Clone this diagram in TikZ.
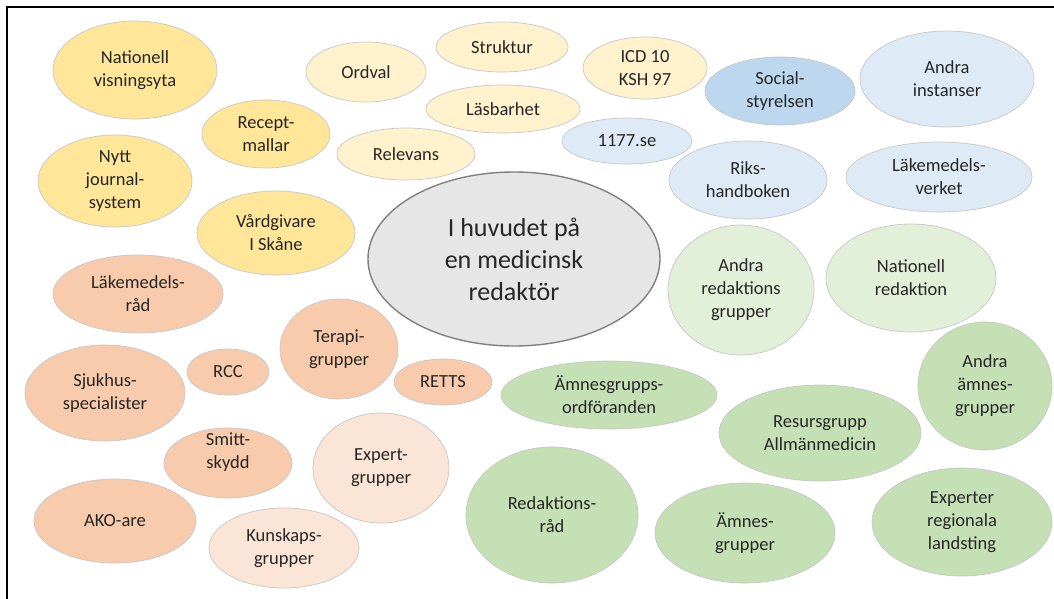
\documentclass[tikz,border=0pt]{standalone}
\usepackage{fontspec}
\setmainfont{Carlito}
\usetikzlibrary{shapes.geometric}
\definecolor{cyel}{HTML}{FFE699}
\definecolor{clyel}{HTML}{FFF2CC}
\definecolor{clblue}{HTML}{DEEBF7}
\definecolor{cblue}{HTML}{BDD7EE}
\definecolor{corange}{HTML}{F8CBAD}
\definecolor{cpeach}{HTML}{FBE5D6}
\definecolor{cgreen}{HTML}{C5E0B4}
\definecolor{clgreen}{HTML}{E2F0D9}
\definecolor{cgray}{HTML}{E7E6E6}
\definecolor{ctext}{HTML}{262626}
\tikzset{
  bub/.style={ellipse, inner sep=0pt, align=center, draw=black!22, line width=0.7pt,
    text=ctext, font=\fontsize{18.5}{23}\selectfont},
  sz/.style n args={2}{minimum width=#1pt, minimum height=#2pt},
  yel/.style={bub, fill=cyel},
  lyel/.style={bub, fill=clyel},
  lblue/.style={bub, fill=clblue},
  blue/.style={bub, fill=cblue},
  ora/.style={bub, fill=corange},
  pea/.style={bub, fill=cpeach},
  gre/.style={bub, fill=cgreen},
  lgre/.style={bub, fill=clgreen},
  txt/.style={inner sep=0pt, align=center, text=ctext, font=\fontsize{18.5}{23}\selectfont},
}
\begin{document}
\begin{tikzpicture}[x=1pt,y=-1pt]
\useasboundingbox (0,0) rectangle (1054,598);
\fill[white] (0,0) rectangle (1054,598);
\coordinate (fl) at (7,598);
\coordinate (fc) at (7,7);
\coordinate (fr) at (1054,7);
\draw[line width=2pt, line cap=rect] (fl) -- (fc) -- (fr);
% yellow
\node[yel, sz={164}{98}] (nat) at (135,70) {Nationell\\visningsyta};
\node[yel, sz={128}{68}] (rec) at (266,134) {Recept-\\mallar};
\node[yel, sz={154}{92}] (nytt) at (115,181) {Nytt\\journal-\\system};
\node[yel, sz={158}{84}] (vard) at (276,233) {Vårdgivare\\I Skåne};
% light yellow
\node[lyel, sz={120}{60}] (ord) at (366,72) {Ordval};
\node[lyel, sz={132}{50}] (str) at (502,47) {Struktur};
\node[lyel, sz={124}{62}] (icd) at (645,68) {ICD 10\\KSH 97};
\node[lyel, sz={154}{48}] (las) at (503,109) {Läsbarhet};
\node[lyel, sz={138}{52}] (rel) at (406,154) {Relevans};
% blue
\node[lblue, sz={130}{46}] (se) at (627,141) {1177.se};
\node[blue, sz={150}{68}] (soc) at (780,91) {Social-\\styrelsen};
\node[lblue, sz={174}{96}] (andi) at (947,79) {Andra\\instanser};
\node[lblue, sz={158}{78}] (riks) at (748,180) {Riks-\\handboken};
\node[lblue, sz={186}{70}] (lmv) at (939,177) {Läkemedels-\\verket};
% center
\node[bub, fill=cgray, draw=black!50, line width=1.4pt, sz={292}{174},
  font=\fontsize{26}{32}\selectfont] (hub) at (514,259) {I huvudet på\\en medicinsk\\redaktör};
% green
\node[lgre, sz={146}{130}] (andr) at (741,290) {Andra\\redaktions\\grupper};
\node[lgre, sz={170}{108}] (natr) at (911,278) {Nationell\\redaktion};
\node[gre, sz={134}{128}] (anda) at (985,386) {Andra\\ämnes-\\grupper};
\node[gre, sz={216}{68}] (ord2) at (609,395) {Ämnesgrupps-\\ordföranden};
\node[gre, sz={202}{96}] (res) at (820,433) {Resursgrupp\\Allmänmedicin};
\node[gre, sz={172}{136}] (redr) at (552,515) {Redaktions-\\råd};
\node[gre, sz={180}{100}] (amn) at (745,533) {Ämnes-\\grupper};
\node[gre, sz={180}{108}] (exr) at (962,522) {Experter\\regionala\\landsting};
% orange
\node[ora, sz={170}{78}] (lkr) at (138,294) {Läkemedels-\\råd};
\node[ora, sz={118}{100}] (ter) at (339,349) {Terapi-\\grupper};
\node[ora, sz={82}{46}] (rcc) at (228,372) {RCC};
\node[ora, sz={98}{46}] (ret) at (443,382) {RETTS};
\node[ora, sz={160}{96}] (sjuk) at (105,393) {Sjukhus-\\specialister};
\node[ora, sz={128}{70}] (smitt) at (228,463) {};
\node[txt] (smittT) at (228,452) {Smitt-\\skydd};
\node[ora, sz={162}{84}] (ako) at (115,521) {AKO-are};
% peach
\node[pea, sz={136}{110}] (expg) at (381,468) {Expert-\\grupper};
\node[pea, sz={150}{80}] (kun) at (284,548) {Kunskaps-\\grupper};
\end{tikzpicture}
\end{document}
